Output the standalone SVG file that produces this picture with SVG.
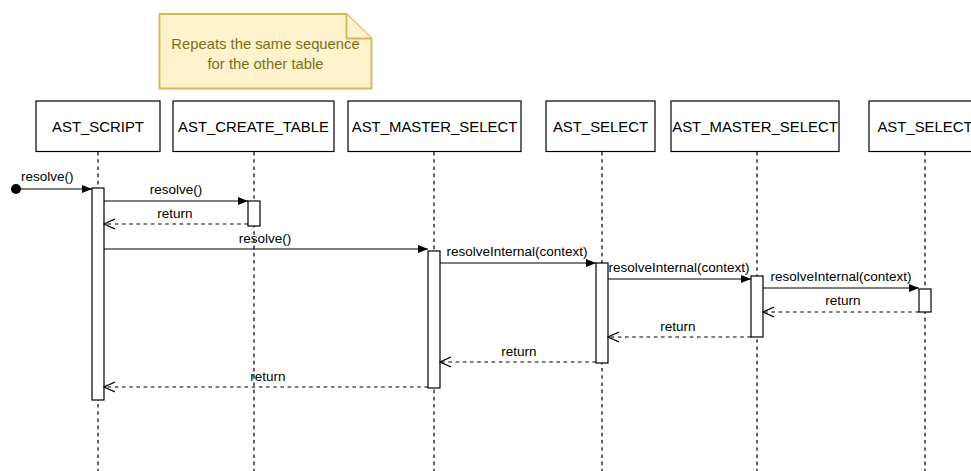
<svg xmlns="http://www.w3.org/2000/svg" width="971" height="471" viewBox="0 0 971 471">
<style>
.box{fill:#fff;stroke:#000;stroke-width:1.2}
.life{stroke:#000;stroke-width:1.2;stroke-dasharray:3.6 3.6;fill:none}
.act{fill:#fff;stroke:#000;stroke-width:1.2}
.hdr{font-family:"Liberation Sans",Arial,sans-serif;font-size:14.9px;fill:#000;text-anchor:middle}
.lbl{font-family:"Liberation Sans",Arial,sans-serif;font-size:13.5px;fill:#000;text-anchor:middle}
.msg{stroke:#000;stroke-width:1.2;fill:none}
.ret{stroke:#000;stroke-width:1.2;fill:none;stroke-dasharray:3.6 3.6}
.note{fill:#fff2cc;stroke:#d6b656;stroke-width:1.8}
.ntxt{font-family:"Liberation Sans",Arial,sans-serif;font-size:14.8px;fill:#7a7018;text-anchor:middle}
</style>
<defs>
<marker id="block" markerWidth="10" markerHeight="8" refX="10" refY="4" orient="auto" markerUnits="userSpaceOnUse">
<path d="M0,0 L10,4 L0,8 Z" fill="#000"/>
</marker>
<marker id="open" markerWidth="12" markerHeight="12" refX="11" refY="6" orient="auto" markerUnits="userSpaceOnUse">
<path d="M0,1 L11,6 L0,11" fill="none" stroke="#000" stroke-width="1.2"/>
</marker>
</defs>
<rect width="971" height="471" fill="#fff"/>

<g id="note">
<path class="note" d="M159.5,14 H346.5 L371.5,38.5 V88.5 H159.5 Z"/>
<path class="note" d="M346.5,14 V38.5 H371.5" fill="none"/>
<text class="ntxt" x="265.5" y="48.5">Repeats the same sequence</text>
<text class="ntxt" x="265.5" y="68.5">for the other table</text>
</g>

<g id="ast_script">
<line class="life" x1="98" y1="152" x2="98" y2="471"/>
<rect class="box" x="36" y="101" width="124" height="50.5"/>
<text class="hdr" x="98" y="131.5">AST_SCRIPT</text>
<rect class="act" x="92" y="188" width="12" height="212"/>
</g>

<g id="ast_create_table">
<line class="life" x1="254" y1="152" x2="254" y2="471"/>
<rect class="box" x="173" y="101" width="161" height="50.5"/>
<text class="hdr" x="253.5" y="131.5">AST_CREATE_TABLE</text>
<rect class="act" x="248" y="201" width="12" height="25"/>
</g>

<g id="ast_master_select_1">
<line class="life" x1="434" y1="152" x2="434" y2="471"/>
<rect class="box" x="348" y="101" width="173" height="50.5"/>
<text class="hdr" x="434.5" y="131.5">AST_MASTER_SELECT</text>
<rect class="act" x="428" y="251" width="12" height="137"/>
</g>

<g id="ast_select_1">
<line class="life" x1="602" y1="152" x2="602" y2="471"/>
<rect class="box" x="546" y="101" width="109" height="50.5"/>
<text class="hdr" x="600.5" y="131.5">AST_SELECT</text>
<rect class="act" x="596" y="263" width="12" height="100"/>
</g>

<g id="ast_master_select_2">
<line class="life" x1="757" y1="152" x2="757" y2="471"/>
<rect class="box" x="671" y="101" width="168" height="50.5"/>
<text class="hdr" x="755" y="131.5">AST_MASTER_SELECT</text>
<rect class="act" x="751" y="276" width="12" height="61"/>
</g>

<g id="ast_select_2">
<line class="life" x1="925" y1="152" x2="925" y2="471"/>
<rect class="box" x="869" y="101" width="112" height="50.5"/>
<text class="hdr" x="925" y="131.5">AST_SELECT</text>
<rect class="act" x="919" y="289" width="12" height="23"/>
</g>

<g id="connectors">
<circle cx="16" cy="189" r="5" fill="#000"/>
<line class="msg" x1="16" y1="189" x2="92" y2="189" marker-end="url(#block)"/>
<text class="lbl" x="21" y="181" style="text-anchor:start">resolve()</text>

<line class="msg" x1="104" y1="201" x2="248" y2="201" marker-end="url(#block)"/>
<text class="lbl" x="176" y="194">resolve()</text>

<line class="ret" x1="248" y1="224" x2="104" y2="224" marker-end="url(#open)"/>
<text class="lbl" x="175" y="218">return</text>

<line class="msg" x1="104" y1="249" x2="428" y2="249" marker-end="url(#block)"/>
<text class="lbl" x="265" y="243">resolve()</text>

<line class="msg" x1="440" y1="263" x2="596" y2="263" marker-end="url(#block)"/>
<text class="lbl" x="517" y="256">resolveInternal(context)</text>

<line class="msg" x1="608" y1="279" x2="751" y2="279" marker-end="url(#block)"/>
<text class="lbl" x="679" y="272">resolveInternal(context)</text>

<line class="msg" x1="763" y1="288" x2="919" y2="288" marker-end="url(#block)"/>
<text class="lbl" x="841" y="281">resolveInternal(context)</text>

<line class="ret" x1="919" y1="312" x2="763" y2="312" marker-end="url(#open)"/>
<text class="lbl" x="843" y="305">return</text>

<line class="ret" x1="751" y1="337" x2="608" y2="337" marker-end="url(#open)"/>
<text class="lbl" x="678" y="331">return</text>

<line class="ret" x1="596" y1="362" x2="440" y2="362" marker-end="url(#open)"/>
<text class="lbl" x="519" y="356">return</text>

<line class="ret" x1="428" y1="387" x2="104" y2="387" marker-end="url(#open)"/>
<text class="lbl" x="268" y="381">return</text>
</g>
</svg>
